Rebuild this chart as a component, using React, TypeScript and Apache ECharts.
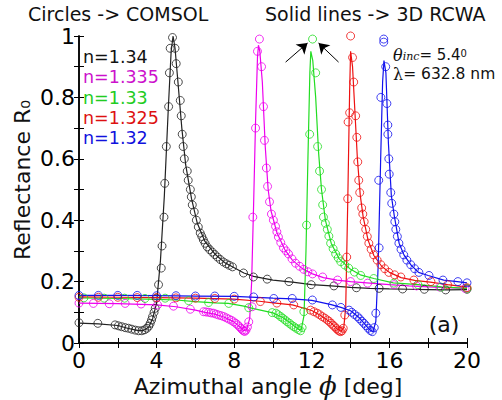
import React, { useEffect, useRef } from "react";
import * as echarts from "echarts";

// ---- data: [phi (deg), R0] ----
const blackLine = [[0,0.065],[1,0.062],[2,0.057],[2.5,0.048],[3,0.041],[3.3,0.04],[3.6,0.052],[3.8,0.08],[4.0,0.13],[4.2,0.27],[4.4,0.48],[4.6,0.76],[4.75,0.95],[4.85,1.0],[4.95,0.96],[5.1,0.85],[5.3,0.7],[5.5,0.58],[5.8,0.47],[6.1,0.39],[6.5,0.33],[7.0,0.29],[7.5,0.262],[8.0,0.245],[8.5,0.228],[9.0,0.217],[10,0.205],[11,0.198],[12,0.19],[13,0.186],[14,0.181],[15,0.178],[16,0.176],[17,0.175],[18,0.174],[19,0.173],[20,0.174]];
const blackCirc = [[0,0.066],[0.97,0.064],[1.86,0.059],[2.03,0.056],[2.2,0.053],[2.38,0.05],[2.55,0.048],[2.72,0.045],[2.9,0.042],[3.07,0.04],[3.24,0.04],[3.38,0.043],[3.5,0.048],[3.6,0.055],[3.67,0.064],[3.74,0.075],[3.79,0.086],[3.87,0.1],[3.93,0.113],[3.98,0.146],[4.1,0.19],[4.24,0.244],[4.28,0.316],[4.38,0.41],[4.42,0.52],[4.5,0.64],[4.62,0.77],[4.66,0.88],[4.7,0.96],[4.82,0.995],[4.95,0.96],[5.01,0.91],[5.12,0.85],[5.22,0.79],[5.27,0.74],[5.32,0.68],[5.37,0.64],[5.43,0.6],[5.58,0.56],[5.63,0.53],[5.74,0.5],[5.79,0.476],[5.84,0.45],[5.94,0.427],[6.05,0.4],[6.15,0.378],[6.25,0.358],[6.33,0.347],[6.41,0.336],[6.5,0.325],[6.61,0.313],[6.74,0.304],[6.87,0.296],[7.0,0.288],[7.13,0.28],[7.28,0.272],[7.44,0.264],[7.6,0.258],[7.75,0.253],[7.91,0.248],[8.48,0.228],[8.99,0.215],[9.7,0.208],[10.82,0.2],[11.97,0.19],[13.14,0.186],[14.3,0.18],[15.47,0.178],[16.68,0.176],[17.8,0.175],[18.9,0.173],[20,0.175]];

const magentaLine = [[0,0.13],[2,0.128],[4,0.124],[5,0.118],[6,0.107],[6.5,0.1],[7,0.094],[7.5,0.084],[8,0.068],[8.3,0.052],[8.5,0.04],[8.65,0.045],[8.8,0.08],[8.9,0.2],[9.0,0.45],[9.1,0.72],[9.2,0.93],[9.25,0.97],[9.32,0.95],[9.45,0.85],[9.6,0.64],[9.75,0.5],[9.9,0.43],[10.2,0.36],[10.6,0.305],[11,0.27],[11.5,0.243],[12,0.226],[12.6,0.213],[13.3,0.205],[14,0.2],[15,0.195],[16,0.19],[17,0.186],[18,0.183],[19,0.18],[20,0.178]];
const magentaCirc = [[0,0.13],[0.74,0.129],[1.56,0.128],[2.38,0.129],[3.2,0.127],[4.05,0.124],[4.87,0.12],[5.74,0.11],[6.42,0.102],[6.55,0.101],[6.68,0.1],[6.81,0.098],[6.94,0.097],[7.07,0.094],[7.2,0.091],[7.33,0.089],[7.46,0.086],[7.59,0.082],[7.72,0.078],[7.85,0.074],[7.97,0.069],[8.08,0.064],[8.18,0.059],[8.27,0.053],[8.35,0.048],[8.42,0.043],[8.49,0.039],[8.55,0.038],[8.61,0.042],[8.68,0.052],[8.75,0.069],[8.92,0.118],[8.96,0.41],[9.1,0.7],[9.2,0.95],[9.3,0.99],[9.41,0.9],[9.51,0.77],[9.56,0.66],[9.66,0.57],[9.72,0.51],[9.82,0.46],[9.92,0.42],[10.02,0.4],[10.13,0.38],[10.2,0.362],[10.28,0.345],[10.4,0.327],[10.54,0.31],[10.67,0.3],[10.8,0.29],[10.98,0.274],[11.16,0.26],[11.37,0.25],[11.58,0.24],[11.8,0.232],[12.04,0.225],[12.56,0.215],[13.33,0.205],[14.0,0.2],[14.88,0.195],[16.24,0.19],[17.4,0.186],[18.6,0.182],[19.9,0.178]];

const greenLine = [[0,0.147],[2,0.145],[4,0.142],[5,0.14],[6,0.135],[7,0.131],[7.7,0.129],[8.5,0.12],[9,0.112],[10,0.098],[10.5,0.083],[11,0.06],[11.3,0.045],[11.45,0.042],[11.6,0.09],[11.7,0.3],[11.8,0.6],[11.9,0.88],[11.95,0.95],[12.05,0.92],[12.2,0.8],[12.35,0.62],[12.5,0.5],[12.7,0.4],[13,0.325],[13.4,0.275],[14,0.24],[14.5,0.222],[15.2,0.21],[16.2,0.196],[17.5,0.19],[18.7,0.183],[20,0.178]];
const greenCirc = [[0.25,0.147],[1.3,0.146],[2.35,0.146],[3.4,0.145],[4.44,0.146],[5.65,0.138],[6.68,0.132],[7.72,0.129],[8.75,0.115],[9.96,0.099],[10.15,0.097],[10.27,0.092],[10.39,0.086],[10.5,0.081],[10.62,0.075],[10.73,0.069],[10.85,0.064],[10.96,0.058],[11.08,0.053],[11.2,0.048],[11.31,0.044],[11.42,0.04],[11.5,0.05],[11.59,0.102],[11.73,0.384],[11.89,0.68],[12.04,0.99],[12.2,0.88],[12.3,0.64],[12.4,0.56],[12.5,0.5],[12.56,0.45],[12.6,0.41],[12.7,0.39],[12.8,0.37],[12.88,0.348],[12.97,0.325],[13.1,0.307],[13.23,0.29],[13.36,0.277],[13.49,0.265],[13.7,0.254],[13.9,0.244],[14.2,0.231],[14.52,0.22],[15.19,0.21],[16.23,0.195],[17.47,0.19],[18.66,0.182],[20,0.178]];

const redLine = [[0,0.15],[2,0.149],[4,0.148],[6,0.146],[8,0.143],[9.3,0.136],[10,0.131],[11,0.124],[12,0.106],[12.5,0.088],[13,0.065],[13.3,0.046],[13.5,0.038],[13.65,0.05],[13.75,0.12],[13.85,0.45],[13.95,0.82],[14.0,0.95],[14.1,0.9],[14.2,0.78],[14.35,0.6],[14.5,0.48],[14.65,0.41],[14.9,0.335],[15.2,0.285],[15.6,0.25],[16,0.23],[16.6,0.213],[17.3,0.204],[18.1,0.198],[19,0.19],[20,0.182]];
const redCirc = [[0,0.149],[1,0.149],[2,0.149],[3,0.148],[4,0.148],[5,0.147],[6,0.146],[7,0.145],[8,0.143],[9.35,0.135],[10.2,0.13],[11.07,0.124],[11.94,0.107],[12.11,0.102],[12.28,0.097],[12.41,0.092],[12.54,0.086],[12.67,0.081],[12.8,0.075],[12.9,0.07],[13.0,0.064],[13.09,0.058],[13.18,0.053],[13.27,0.047],[13.35,0.042],[13.42,0.039],[13.49,0.037],[13.56,0.04],[13.62,0.048],[13.7,0.091],[13.8,0.28],[13.85,0.47],[13.87,0.72],[13.95,0.75],[14.0,1.0],[14.1,0.93],[14.16,0.85],[14.26,0.74],[14.32,0.67],[14.37,0.59],[14.42,0.53],[14.47,0.49],[14.57,0.44],[14.63,0.42],[14.7,0.395],[14.78,0.37],[14.86,0.347],[14.94,0.325],[15.06,0.305],[15.19,0.287],[15.37,0.27],[15.56,0.255],[15.76,0.242],[15.97,0.23],[16.27,0.222],[16.59,0.215],[17.26,0.205],[18.14,0.2],[19.0,0.19],[20,0.18]];

const blueLine = [[0,0.155],[2,0.155],[4,0.154],[6,0.153],[8,0.152],[10,0.146],[11,0.144],[12,0.139],[13,0.125],[13.5,0.116],[14,0.105],[14.4,0.085],[14.7,0.064],[15.0,0.042],[15.15,0.036],[15.3,0.07],[15.42,0.25],[15.55,0.6],[15.65,0.85],[15.72,0.92],[15.82,0.88],[15.95,0.65],[16.1,0.48],[16.25,0.415],[16.5,0.325],[16.75,0.287],[17.1,0.255],[17.5,0.23],[18,0.22],[18.8,0.205],[19.5,0.2],[20,0.196]];
const blueCirc = [[0,0.155],[1,0.155],[2,0.155],[3,0.155],[4,0.154],[5,0.154],[6,0.153],[7,0.153],[8,0.152],[9,0.15],[10.04,0.145],[10.99,0.145],[12.03,0.14],[13.06,0.124],[13.5,0.116],[13.92,0.107],[14.06,0.1],[14.2,0.093],[14.35,0.086],[14.46,0.079],[14.58,0.071],[14.69,0.064],[14.8,0.056],[14.91,0.048],[15.02,0.041],[15.12,0.037],[15.22,0.05],[15.3,0.097],[15.47,0.31],[15.45,0.53],[15.56,0.8],[15.71,0.98],[15.71,0.99],[15.81,0.9],[15.87,0.78],[15.92,0.71],[15.92,0.68],[15.97,0.6],[15.99,0.55],[16.07,0.49],[16.12,0.455],[16.23,0.42],[16.28,0.395],[16.33,0.37],[16.41,0.347],[16.49,0.325],[16.6,0.305],[16.74,0.287],[16.9,0.27],[17.1,0.255],[17.3,0.242],[17.52,0.23],[18.04,0.22],[18.76,0.205],[19.53,0.2],[20,0.196]];

const legendLabels = ["n=1.34", "n=1.335", "n=1.33", "n=1.325", "n=1.32"];
const xTicks = [0, 4, 8, 12, 16, 20];
const yTicks = [0, 0.2, 0.4, 0.6, 0.8, 1];
// arrow annotations [from, to] in data coordinates
const arrows = [
  [[10.65, 0.915], [11.78, 0.977]],
  [[13.38, 0.915], [12.35, 0.977]],
];

const COLORS = ["#222222", "#ee00ee", "#22dd22", "#ee1111", "#1111ee"];
const TEXTCOLORS = ["#111111", "#cc11cc", "#22cc22", "#dd1111", "#1111dd"];

const FONT = "DejaVu Sans";

export default function App() {
  const ref = useRef<HTMLDivElement>(null);
  useEffect(() => {
    if (!ref.current) return;
    const chart = echarts.init(ref.current, null, { renderer: "svg" });
    const sets = [
      [blackLine, blackCirc],
      [magentaLine, magentaCirc],
      [greenLine, greenCirc],
      [redLine, redCirc],
      [blueLine, blueCirc],
    ];
    const series: any[] = [];
    sets.forEach(([line, circ], i) => {
      series.push({
        type: "line",
        data: line,
        showSymbol: false,
        symbol: "none",
        lineStyle: { color: COLORS[i], width: 1.2 },
        z: 2,
        silent: true,
      });
      series.push({
        type: "scatter",
        data: circ,
        symbol: "circle",
        symbolSize: 8,
        clip: false,
        itemStyle: { color: "rgba(0,0,0,0)", borderColor: COLORS[i], borderWidth: 1 },
        z: 3,
        silent: true,
      });
    });
    // arrows annotation series
    series.push({
      type: "line",
      data: [],
      silent: true,
      markLine: {
        silent: true,
        symbol: ["none", "arrow"],
        symbolSize: 10,
        label: { show: false },
        lineStyle: { color: "#000", width: 1, type: "solid" },
        emphasis: { disabled: true },
        data: arrows.map(([a, b]) => [
          { coord: a, symbol: "none" },
          { coord: b, symbol: "arrow", symbolSize: 10 },
        ]),
      },
      z: 10,
    });

    const axisCommon = {
      axisLine: { show: true, lineStyle: { color: "#000", width: 1.5 } },
      axisTick: { show: true, inside: true, length: 5, lineStyle: { color: "#000", width: 1 } },
      minorTick: { show: true, splitNumber: 2, length: 5, lineStyle: { color: "#000", width: 1 } },
      splitLine: { show: false },
      minorSplitLine: { show: false },
    };

    const legendGraphics = legendLabels.map((t, i) => ({
      type: "text",
      x: 83,
      y: 57 + i * 20.3,
      z: 100,
      style: {
        text: t,
        fill: TEXTCOLORS[i],
        font: `17.5px "${FONT}"`,
        verticalAlign: "middle",
      },
    }));

    chart.setOption({
      animation: false,
      backgroundColor: "#fff",
      grid: { left: 79, right: 35, top: 36, bottom: 57 },
      xAxis: [
        {
          type: "value",
          min: xTicks[0],
          max: xTicks[xTicks.length - 1],
          interval: 4,
          ...axisCommon,
          axisLabel: { color: "#000", fontSize: 22, fontFamily: FONT, margin: 6 },
        },
        {
          type: "value",
          position: "top",
          min: 0,
          max: 20,
          interval: 4,
          ...axisCommon,
          axisLabel: { show: false },
        },
      ],
      yAxis: [
        {
          type: "value",
          min: yTicks[0],
          max: yTicks[yTicks.length - 1],
          interval: 0.2,
          ...axisCommon,
          axisLabel: {
            color: "#000",
            fontSize: 22,
            fontFamily: FONT,
            margin: 4,
            formatter: (v: number) => (v === 0 || v === 1 ? String(v) : v.toFixed(1)),
          },
        },
        {
          type: "value",
          position: "right",
          min: 0,
          max: 1,
          interval: 0.2,
          ...axisCommon,
          axisLabel: { show: false },
        },
      ],
      series,
      graphic: [
        {
          type: "rect",
          shape: { x: 391, y: 45, width: 95, height: 47 },
          style: { fill: "#fff" },
          z: 90,
        },
        {
          type: "text",
          left: 28,
          top: 4,
          z: 100,
          style: { text: "Circles -> COMSOL", fill: "#111", font: `19px "${FONT}"` },
        },
        {
          type: "text",
          left: 265,
          top: 4,
          z: 100,
          style: { text: "Solid lines -> 3D RCWA", fill: "#111", font: `19px "${FONT}"` },
        },
        ...legendGraphics,
        {
          type: "text",
          x: 393,
          y: 55,
          z: 100,
          style: {
            text: "{m|θ}{s|inc}{t|= 5.4}{p|0}",
            verticalAlign: "middle",
            rich: {
              m: { fontFamily: "DejaVu Serif", fontStyle: "italic", fontSize: 16, fill: "#111", lineHeight: 14, verticalAlign: "middle" },
              s: { fontFamily: "DejaVu Serif", fontStyle: "italic", fontSize: 11, fill: "#111", lineHeight: 14, verticalAlign: "bottom" },
              t: { fontFamily: FONT, fontSize: 15, fill: "#111", lineHeight: 14, verticalAlign: "middle" },
              p: { fontFamily: FONT, fontSize: 10, fill: "#111", lineHeight: 14, verticalAlign: "top" },
            },
          },
        },
        {
          type: "text",
          x: 393,
          y: 74,
          z: 100,
          style: {
            text: "{m|λ}{t|= 632.8 nm}",
            verticalAlign: "middle",
            rich: {
              m: { fontFamily: "DejaVu Serif", fontSize: 16, fill: "#111", lineHeight: 14 },
              t: { fontFamily: FONT, fontSize: 15.5, fill: "#111", lineHeight: 14 },
            },
          },
        },
        {
          type: "text",
          x: 444,
          y: 324,
          z: 100,
          style: { text: "(a)", fill: "#111", font: `22px "${FONT}"`, align: "center", verticalAlign: "middle" },
        },
        {
          type: "text",
          x: 268,
          y: 386,
          z: 100,
          style: {
            text: "{t|Azimuthal angle }{p|ϕ}{t| [deg]}",
            align: "center",
            verticalAlign: "middle",
            rich: {
              t: { fontFamily: FONT, fontSize: 22, fill: "#111" },
              p: { fontFamily: "DejaVu Serif", fontStyle: "italic", fontSize: 26, fill: "#111" },
            },
          },
        },
        {
          type: "text",
          x: 22,
          y: 180,
          rotation: Math.PI / 2,
          z: 100,
          style: {
            text: "Reflectance R₀",
            fill: "#111",
            font: `22px "${FONT}"`,
            align: "center",
            verticalAlign: "middle",
          },
        },
      ],
    });
    return () => chart.dispose();
  }, []);
  return (
    <div
      ref={ref}
      style={{ position: "fixed", left: 0, top: 0, width: 502, height: 400, background: "#fff" }}
    />
  );
}
